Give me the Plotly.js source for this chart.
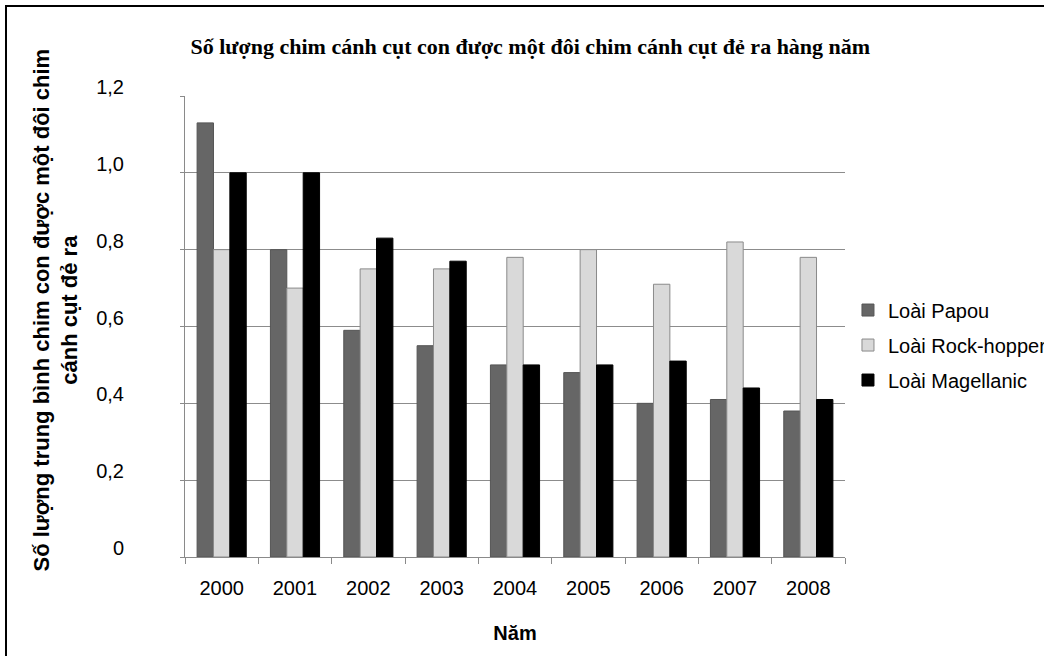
<!DOCTYPE html>
<html>
<head>
<meta charset="utf-8">
<script src="https://cdn.plot.ly/plotly-3.0.1.min.js"></script>
<style>
  html, body { margin: 0; padding: 0; background: #fff; }
  #wrap { position: relative; width: 1044px; height: 656px; overflow: hidden; }
  #chart { width: 1044px; height: 656px; }
  #frame { position: absolute; left: 5px; top: 5px; width: 1100px; height: 700px;
           border-left: 2px solid #000; border-top: 2px solid #000; pointer-events: none; }
</style>
</head>
<body>
<div id="wrap">
  <div id="chart"></div>
  <div id="frame"></div>
</div>
<script>
const years = ['2000','2001','2002','2003','2004','2005','2006','2007','2008'];
const papou = [1.13, 0.80, 0.59, 0.55, 0.50, 0.48, 0.40, 0.41, 0.38];
const rockhopper = [0.80, 0.70, 0.75, 0.75, 0.78, 0.80, 0.71, 0.82, 0.78];
const magellanic = [1.00, 1.00, 0.83, 0.77, 0.50, 0.50, 0.51, 0.44, 0.41];
const seriesNames = ['Loài Papou', 'Loài Rock-hopper', 'Loài Magellanic'];
const yTickVals = [0, 0.2, 0.4, 0.6, 0.8, 1.0, 1.2];
const yTickText = ['0', '0,2', '0,4', '0,6', '0,8', '1,0', '1,2'];
const yTitleText = '<b>Số lượng trung bình chim con được một đôi chim<br>cánh cụt đẻ ra</b>';

const sans = 'Liberation Sans, Arial, sans-serif';

const traces = [
  {type: 'bar', name: seriesNames[0], x: years, y: papou, legendgroup: 'a',
   marker: {color: '#666666', line: {color: '#555555', width: 1}}},
  {type: 'bar', name: seriesNames[1], x: years, y: rockhopper, legendgroup: 'b',
   marker: {color: '#d9d9d9', line: {color: '#8a8a8a', width: 1}}},
  {type: 'bar', name: seriesNames[2], x: years, y: magellanic, legendgroup: 'c',
   marker: {color: '#000000', line: {color: '#000000', width: 1}}}
];

const layout = {
  width: 1044, height: 656,
  paper_bgcolor: '#ffffff', plot_bgcolor: '#ffffff',
  margin: {l: 185, r: 199, t: 96, b: 99, autoexpand: false},
  barmode: 'group', bargap: 0.33, bargroupgap: 0,
  font: {family: sans, color: '#000'},
  title: {
    text: '<b>Số lượng chim cánh cụt con được một đôi chim cánh cụt đẻ ra hàng năm</b>',
    font: {family: 'Liberation Serif, Times New Roman, serif', size: 22, color: '#000'},
    xref: 'container', yref: 'container', x: 0.508, y: 0.93,
    xanchor: 'center', yanchor: 'middle'
  },
  xaxis: {
    type: 'category',
    showline: true, linecolor: '#8a8a8a', linewidth: 1,
    ticks: 'outside', tickson: 'boundaries', ticklen: 6, tickcolor: '#8a8a8a',
    tickfont: {family: sans, size: 20, color: '#000'},
    ticklabelstandoff: 13,
    showgrid: false,
    title: {text: '<b>Năm</b>', font: {family: sans, size: 20, color: '#000'}, standoff: 27}
  },
  yaxis: {
    range: [0, 1.2],
    tickvals: yTickVals, ticktext: yTickText,
    showline: true, linecolor: '#8a8a8a', linewidth: 1,
    ticks: 'outside', ticklen: 4, tickcolor: '#8a8a8a',
    tickfont: {family: sans, size: 20, color: '#000'},
    ticklabelstandoff: 52, ticklabelshift: -9,
    showgrid: true, gridcolor: '#8c8c8c', gridwidth: 1,
    zeroline: false
  },
  annotations: [{
    text: yTitleText, textangle: -90, showarrow: false,
    xref: 'paper', yref: 'paper', x: -0.196, y: 0.536,
    xanchor: 'center', yanchor: 'middle',
    font: {family: sans, size: 22, color: '#000'}
  }],
  showlegend: true,
  legend: {
    x: 1.0045, y: 0.578, xanchor: 'left', yanchor: 'top',
    font: {family: sans, size: 20, color: '#000'},
    tracegroupgap: 6, bgcolor: 'rgba(0,0,0,0)', borderwidth: 0
  }
};

Plotly.newPlot('chart', traces, layout, {displayModeBar: false, staticPlot: true});
</script>
</body>
</html>
